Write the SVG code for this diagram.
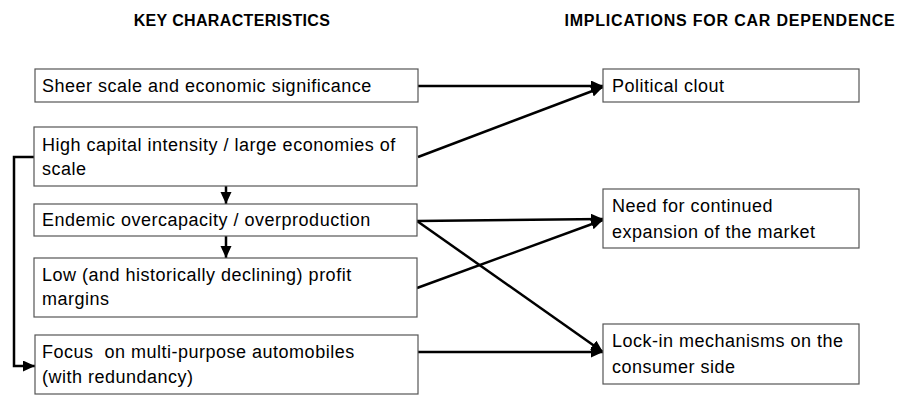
<svg xmlns="http://www.w3.org/2000/svg" width="898" height="395" viewBox="0 0 898 395">
<style>
.box{fill:#fff;stroke:#555;stroke-width:1.2}
.t{font-family:"Liberation Sans",Arial,sans-serif;font-size:18px;letter-spacing:0.5px;fill:#000}
.h{font-family:"Liberation Sans",Arial,sans-serif;font-size:16px;font-weight:bold;fill:#000;text-anchor:middle}
.c{fill:none;stroke:#000;stroke-width:2.5}
</style>
<defs>
<marker id="ah" markerUnits="userSpaceOnUse" markerWidth="13" markerHeight="12" refX="12" refY="5.5" orient="auto" viewBox="0 0 13 12">
<path d="M0,0 L12,5.5 L0,11 z" fill="#000"/>
</marker>
</defs>
<text class="h" x="232" y="26" style="letter-spacing:0.35px">KEY CHARACTERISTICS</text>
<text class="h" x="730" y="26" style="letter-spacing:0.8px">IMPLICATIONS FOR CAR DEPENDENCE</text>
<g id="connectors">
<path class="c" d="M418,86 H603" marker-end="url(#ah)"/>
<path class="c" d="M418,157 L603,87" marker-end="url(#ah)"/>
<path class="c" d="M417,221 L603,219" marker-end="url(#ah)"/>
<path class="c" d="M417,221 L603,352" marker-end="url(#ah)"/>
<path class="c" d="M417,288 L603,220" marker-end="url(#ah)"/>
<path class="c" d="M418,352 H603" marker-end="url(#ah)"/>
<path class="c" d="M226,186 V204" marker-end="url(#ah)"/>
<path class="c" d="M226,236 V258" marker-end="url(#ah)"/>
<path class="c" d="M34,157 H14 V366 H35" marker-end="url(#ah)"/>
</g>
<g id="n1"><rect class="box" x="35" y="69" width="383" height="33"/><text class="t" x="42" y="92">Sheer scale and economic significance</text></g>
<g id="n2"><rect class="box" x="34" y="127" width="383" height="59"/><text class="t" x="42" y="151">High capital intensity / large economies of</text><text class="t" x="42" y="175">scale</text></g>
<g id="n3"><rect class="box" x="34" y="204" width="383" height="32"/><text class="t" x="42" y="226">Endemic overcapacity / overproduction</text></g>
<g id="n4"><rect class="box" x="34" y="258" width="383" height="59"/><text class="t" x="42" y="281">Low (and historically declining) profit</text><text class="t" x="42" y="305">margins</text></g>
<g id="n5"><rect class="box" x="35" y="335" width="383" height="59"/><text class="t" x="42" y="358" xml:space="preserve">Focus  on multi-purpose automobiles</text><text class="t" x="42" y="383">(with redundancy)</text></g>
<g id="r1"><rect class="box" x="603" y="69" width="256" height="33"/><text class="t" x="612" y="92">Political clout</text></g>
<g id="r2"><rect class="box" x="603" y="189" width="256" height="59"/><text class="t" x="612" y="212">Need for continued</text><text class="t" x="612" y="238">expansion of the market</text></g>
<g id="r3"><rect class="box" x="603" y="324" width="256" height="60"/><text class="t" x="612" y="347">Lock-in mechanisms on the</text><text class="t" x="612" y="373">consumer side</text></g>
</svg>
